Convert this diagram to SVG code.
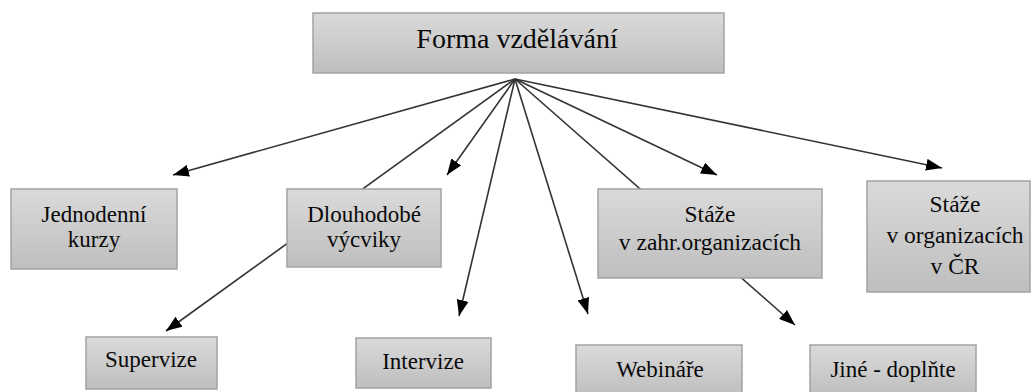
<svg xmlns="http://www.w3.org/2000/svg" width="1034" height="392" viewBox="0 0 1034 392">
<style>
.box{fill:url(#g);stroke:#a3a3a3;stroke-width:1.5}
.t{fill:#0a0a0a;text-anchor:middle}
.c{stroke:#333;stroke-width:1.6;fill:none;marker-end:url(#a)}
</style>
<defs>
<linearGradient id="g" x1="0" y1="0" x2="0" y2="1">
<stop offset="0" stop-color="#dadada"/>
<stop offset="1" stop-color="#bebebe"/>
</linearGradient>
<marker id="a" viewBox="0 0 16 12" markerWidth="16" markerHeight="12" refX="16" refY="6" orient="auto" markerUnits="userSpaceOnUse">
<path d="M0,0 L16,6 L0,12 z" fill="#000"/>
</marker>
</defs>
<rect width="1034" height="392" fill="#fff"/>
<g id="connectors">
<line class="c" x1="515" y1="79" x2="173" y2="175"/>
<line class="c" x1="515" y1="79" x2="166" y2="331"/>
<line class="c" x1="515" y1="79" x2="447" y2="175"/>
<line class="c" x1="515" y1="79" x2="459" y2="316"/>
<line class="c" x1="515" y1="79" x2="588" y2="314"/>
<line class="c" x1="515" y1="79" x2="795" y2="325"/>
<line class="c" x1="515" y1="79" x2="717" y2="175"/>
<line class="c" x1="515" y1="79" x2="942" y2="168"/>
</g>
<g font-family="'Liberation Serif', 'Times New Roman', serif" font-size="23">
<g id="forma">
<rect class="box" x="313" y="13" width="411" height="60"/>
<text class="t" x="517" y="48" font-size="28">Forma vzdělávání</text>
</g>
<g id="jednodenni">
<rect class="box" x="11" y="189" width="166" height="80"/>
<text class="t" x="94" y="222">Jednodenní</text>
<text class="t" x="94" y="247">kurzy</text>
</g>
<g id="dlouhodobe">
<rect class="box" x="287" y="189" width="154" height="78"/>
<text class="t" x="364" y="222">Dlouhodobé</text>
<text class="t" x="364" y="247">výcviky</text>
</g>
<g id="staze-zahr">
<rect class="box" x="598" y="189" width="224" height="89"/>
<text class="t" x="710" y="222" font-size="23.5">Stáže</text>
<text class="t" x="710" y="250" font-size="23.5">v zahr.organizacích</text>
</g>
<g id="staze-cr">
<rect class="box" x="867" y="181" width="163" height="111"/>
<text class="t" x="955" y="212" font-size="23.5">Stáže</text>
<text class="t" x="955" y="243" font-size="23.5">v organizacích</text>
<text class="t" x="955" y="274" font-size="23.5">v ČR</text>
</g>
<g id="supervize">
<rect class="box" x="86" y="337" width="131" height="52"/>
<text class="t" x="151" y="367">Supervize</text>
</g>
<g id="intervize">
<rect class="box" x="356" y="338" width="135" height="50"/>
<text class="t" x="423" y="369">Intervize</text>
</g>
<g id="webinare">
<rect class="box" x="576" y="345" width="166" height="52"/>
<text class="t" x="660" y="377">Webináře</text>
</g>
<g id="jine">
<rect class="box" x="810" y="345" width="166" height="52"/>
<text class="t" x="893" y="377">Jiné - doplňte</text>
</g>
</g>
</svg>
